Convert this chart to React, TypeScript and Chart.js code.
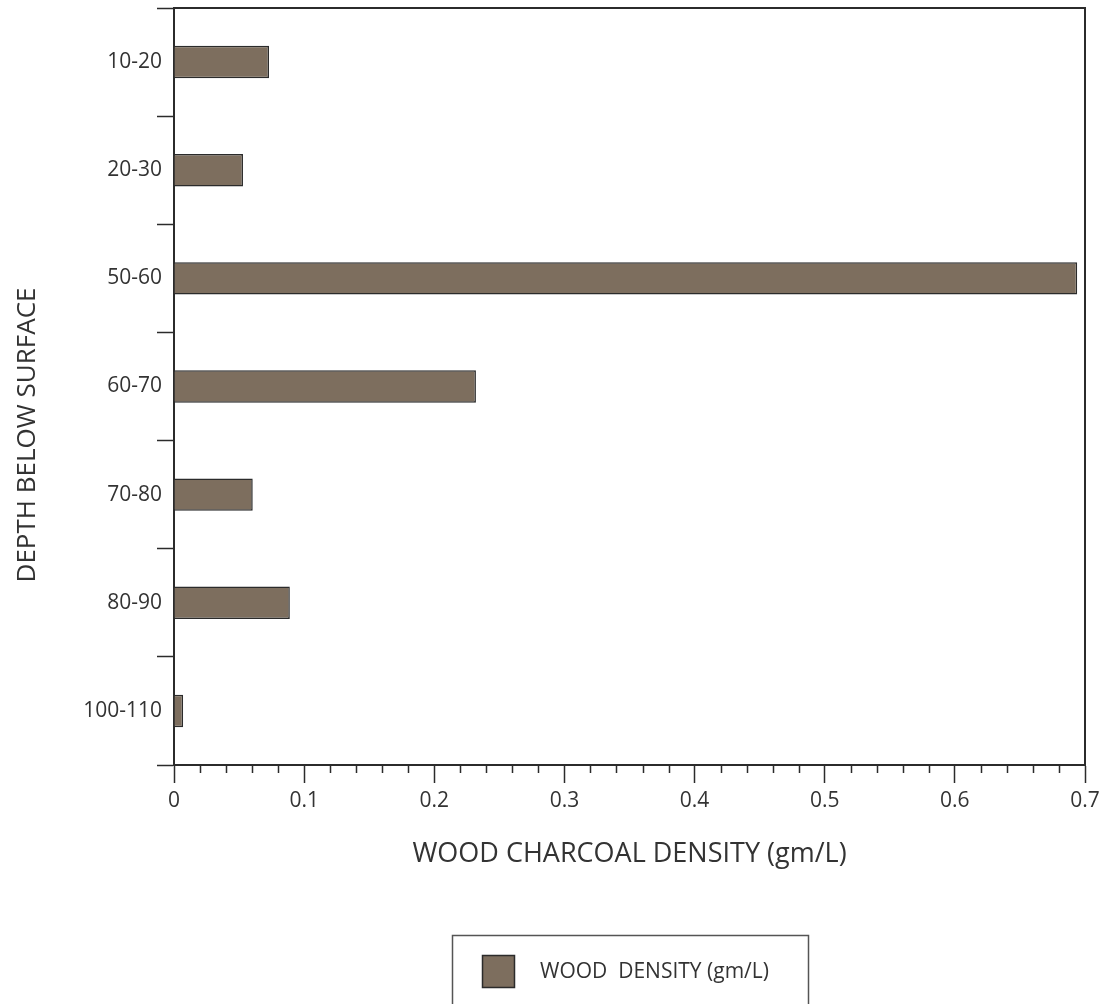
import React, { useEffect, useRef } from "react";
import { Chart, registerables } from "chart.js";

Chart.register(...registerables);

// ---- data ----
const depthLabels = ["10-20", "20-30", "50-60", "60-70", "70-80", "80-90", "100-110"];
const woodDensity = [0.073, 0.053, 0.694, 0.232, 0.0605, 0.089, 0.007];
const seriesLabel = "WOOD  DENSITY (gm/L)";
const xTitle = "WOOD CHARCOAL DENSITY (gm/L)";
const yTitle = "DEPTH BELOW SURFACE";
const xMin = 0;
const xMax = 0.7;
const xMajorStep = 0.1;
const xMinorStep = 0.02;

// ---- style ----
const INK = "#2b2b2b";
const TEXT = "#333333";
const BAR_FILL = "#7d6e5e";
const FONT = "'Open Sans', 'DejaVu Sans', sans-serif";
const W = 1109;
const H = 1004;

const isMajor = (v: number) => Math.abs(v / xMajorStep - Math.round(v / xMajorStep)) < 1e-6;

const extrasPlugin = {
  id: "extras",
  afterDraw(chart: any) {
    const { ctx, chartArea: a, scales } = chart;
    ctx.save();
    // top and right frame
    ctx.strokeStyle = INK;
    ctx.lineWidth = 2;
    ctx.beginPath();
    ctx.moveTo(a.left, a.top);
    ctx.lineTo(a.right, a.top);
    ctx.lineTo(a.right, a.bottom);
    ctx.stroke();

    // minor x ticks
    const xs = scales.x;
    ctx.lineWidth = 1.5;
    ctx.beginPath();
    xs.ticks.forEach((t: any) => {
      if (!isMajor(t.value)) {
        const px = Math.round(xs.getPixelForValue(t.value)) + 0.5;
        ctx.moveTo(px, a.bottom);
        ctx.lineTo(px, a.bottom + 8);
      }
    });
    ctx.stroke();

    // y-axis title
    ctx.fillStyle = TEXT;
    ctx.font = `26px ${FONT}`;
    ctx.textAlign = "center";
    ctx.textBaseline = "middle";
    ctx.save();
    ctx.translate(28, 435);
    ctx.rotate(-Math.PI / 2);
    ctx.fillText(yTitle, 0, 0);
    ctx.restore();

    // legend box
    const ds = chart.data.datasets[0];
    ctx.strokeStyle = "#555555";
    ctx.lineWidth = 1.5;
    ctx.strokeRect(452.5, 935.5, 356, 100);
    ctx.fillStyle = ds.backgroundColor;
    ctx.fillRect(482, 955, 33, 33);
    ctx.strokeStyle = INK;
    ctx.lineWidth = 1.5;
    ctx.strokeRect(482.5, 955.5, 32, 32);
    ctx.fillStyle = TEXT;
    ctx.font = `21px ${FONT}`;
    ctx.textAlign = "left";
    ctx.textBaseline = "middle";
    ctx.fillText(ds.label, 540, 972);
    ctx.restore();
  },
};

export default function App() {
  const ref = useRef<HTMLCanvasElement | null>(null);

  useEffect(() => {
    if (!ref.current) return;
    const chart = new Chart(ref.current, {
      type: "bar",
      data: {
        labels: depthLabels,
        datasets: [
          {
            label: seriesLabel,
            data: woodDensity,
            backgroundColor: BAR_FILL,
            borderColor: INK,
            borderWidth: 1.5,
            barPercentage: 0.3,
            categoryPercentage: 1,
          },
        ],
      },
      options: {
        indexAxis: "y",
        responsive: false,
        animation: false,
        layout: { padding: { left: 0, right: 24, top: 8, bottom: 0 } },
        plugins: {
          legend: { display: false },
          tooltip: { enabled: false },
        },
        scales: {
          x: {
            type: "linear",
            min: xMin,
            max: xMax,
            afterFit: (s: any) => {
              s.height = 239;
            },
            border: { display: true, color: INK, width: 2 },
            grid: {
              display: true,
              drawOnChartArea: false,
              drawTicks: true,
              tickLength: 18,
              tickWidth: 1.5,
              tickColor: (c: any) => (c.tick && isMajor(c.tick.value) ? INK : "rgba(0,0,0,0)"),
            },
            ticks: {
              stepSize: xMinorStep,
              autoSkip: false,
              maxRotation: 0,
              padding: 5,
              color: TEXT,
              font: { family: FONT, size: 21 },
              callback: (v: any) => {
                const n = Number(v);
                if (!isMajor(n)) return "";
                const r = Math.round(n * 10) / 10;
                return r === 0 ? "0" : String(r);
              },
            },
            title: {
              display: true,
              text: xTitle,
              color: TEXT,
              font: { family: FONT, size: 27 },
              padding: { top: 0, bottom: 133 },
            },
          },
          y: {
            type: "category",
            offset: true,
            afterFit: (s: any) => {
              s.width = 174;
            },
            border: { display: true, color: INK, width: 2 },
            grid: {
              display: true,
              offset: true,
              drawOnChartArea: false,
              drawTicks: true,
              tickLength: 17,
              tickWidth: 1.5,
              tickColor: INK,
            },
            ticks: {
              padding: -5,
              color: TEXT,
              font: { family: FONT, size: 21 },
            },
          },
        },
      },
      plugins: [extrasPlugin],
    } as any);
    return () => chart.destroy();
  }, []);

  return (
    <div style={{ position: "absolute", left: 0, top: 0, width: W, height: H, background: "#ffffff" }}>
      <canvas ref={ref} width={W} height={H} style={{ display: "block" }} />
    </div>
  );
}
